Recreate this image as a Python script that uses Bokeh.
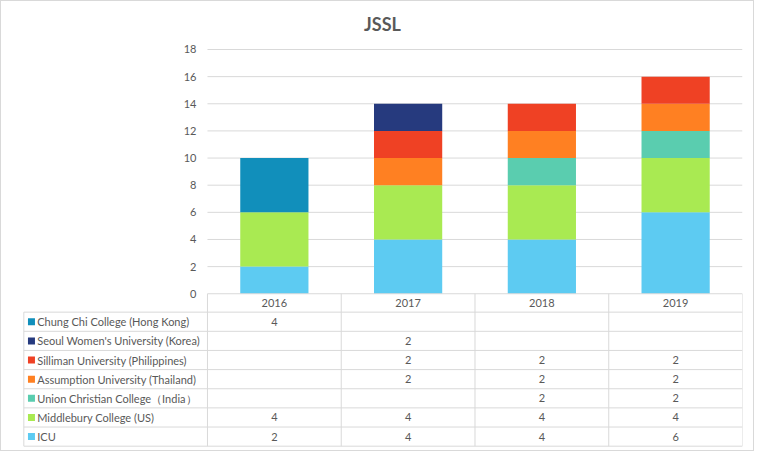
from bokeh.plotting import figure
from bokeh.models import LinearAxis, FixedTicker, Range1d, ColumnDataSource
from bokeh.core.properties import value
from bokeh.embed import file_html
from bokeh.resources import INLINE

# ---- data ----
years = ["2016", "2017", "2018", "2019"]
icu = [2, 4, 4, 6]
middlebury = [4, 4, 4, 4]
union_christian = [None, None, 2, 2]
assumption = [None, 2, 2, 2]
silliman = [None, 2, 2, 2]
seoul = [None, 2, None, None]
chung_chi = [4, None, None, None]
series_labels = [
    "ICU",
    "Middlebury College (US)",
    "Union Christian College（India）",
    "Assumption University (Thailand)",
    "Silliman University (Philippines)",
    "Seoul Women's University (Korea)",
    "Chung Chi College (Hong Kong)",
]
series_values = [icu, middlebury, union_christian, assumption, silliman, seoul, chung_chi]
colors = ["#5DCBF2", "#A9EA52", "#5ACDAF", "#FF8022", "#EF4124", "#263A7E", "#118FBB"]
y_ticks = [0, 2, 4, 6, 8, 10, 12, 14, 16, 18]

FONT = "Lato"
TXT = "#595959"
LINE = "#D9D9D9"

# layout constants (data units)
label_left = -1.373
header_h = 1.356
row_h = 1.411

p = figure(width=754, height=451, output_backend="svg", toolbar_location=None,
           x_range=Range1d(-1.383, 4.0), y_range=Range1d(-11.33, 18.663),
           x_axis_location=None, y_axis_location=None,
           min_border_left=21, min_border_right=13, min_border_top=39, min_border_bottom=5,
           styles={"border": "1px solid #D9D9D9"})
p.outline_line_color = None
p.background_fill_color = "white"
p.border_fill_color = "white"
for g in p.grid:
    g.visible = False

p.title.text = "JSSL"
p.title.align = "center"
p.title.vertical_align = "middle"
p.title.offset = -3
p.title.text_font = FONT
p.title.text_font_size = "18px"
p.title.text_font_style = "bold"
p.title.text_color = TXT

yaxis = LinearAxis(fixed_location=0, ticker=FixedTicker(ticks=y_ticks))
yaxis.axis_line_color = None
yaxis.major_tick_line_color = None
yaxis.minor_tick_line_color = None
yaxis.major_tick_out = 0
yaxis.major_tick_in = 0
yaxis.major_label_standoff = 11
yaxis.major_label_text_font = FONT
yaxis.major_label_text_font_size = "11px"
yaxis.major_label_text_color = TXT
p.add_layout(yaxis, "left")

n = len(years)
xc = [i + 0.5 for i in range(n)]

# gridlines
gy = y_ticks[1:]
p.segment(x0=[0] * len(gy), x1=[n] * len(gy), y0=gy, y1=gy, line_color=LINE, line_width=1)

# stacked bars
keys = ["s%d" % i for i in range(len(series_values))]
data = {"x": xc}
for k, vals in zip(keys, series_values):
    data[k] = [v if v is not None else 0 for v in vals]
src = ColumnDataSource(data)
p.vbar_stack(keys, x="x", width=0.51, color=colors, line_color=None, source=src)

# table grid
nrows = len(series_values)
bottom = -(header_h + nrows * row_h)
row_lines = [-(header_h + i * row_h) for i in range(nrows + 1)]
p.segment(x0=[0], x1=[n], y0=[0], y1=[0], line_color=LINE, line_width=1)
p.segment(x0=[label_left] * len(row_lines), x1=[n] * len(row_lines), y0=row_lines, y1=row_lines,
          line_color=LINE, line_width=1)
p.segment(x0=list(range(n + 1)), x1=list(range(n + 1)), y0=[0] * (n + 1), y1=[bottom] * (n + 1),
          line_color=LINE, line_width=1)
p.segment(x0=[label_left], x1=[label_left], y0=[-header_h], y1=[bottom], line_color=LINE, line_width=1)

# header labels
p.text(x=xc, y=[-header_h / 2] * n, text=years, text_align="center", text_baseline="middle",
       text_font=value(FONT), text_font_size="11px", text_color=TXT)

# rows: top-to-bottom reverse of stacking order
order = list(range(nrows))[::-1]
row_y = [-(header_h + (r + 0.5) * row_h) for r in range(nrows)]
p.scatter(x=[label_left + 0.057] * nrows, y=row_y, marker="square", size=7,
          color=[colors[i] for i in order], line_color=None)
p.text(x=[label_left + 0.1] * nrows, y=row_y, text=[series_labels[i] for i in order],
       text_align="left", text_baseline="middle", text_font=value(FONT), text_font_size="11px",
       text_color=TXT)

tx, ty, tt = [], [], []
for r, i in enumerate(order):
    for j, v in enumerate(series_values[i]):
        if v is not None:
            tx.append(xc[j])
            ty.append(row_y[r])
            tt.append(str(v))
p.text(x=tx, y=ty, text=tt, text_align="center", text_baseline="middle",
       text_font=value(FONT), text_font_size="11px", text_color=TXT)

open("out.html", "w").write(file_html(p, INLINE))
